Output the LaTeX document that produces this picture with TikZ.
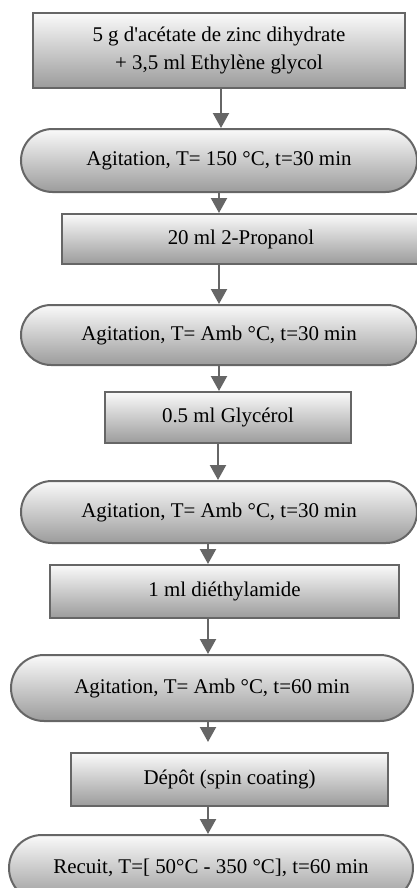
\documentclass[tikz,border=0pt]{standalone}
\usepackage{fontspec}
\setmainfont{Liberation Serif}
\usetikzlibrary{arrows.meta,shapes.misc}
\begin{document}
\begin{tikzpicture}[x=1bp,y=-1bp,
  etape/.style={draw=black!60,line width=2bp,top color=white!96!gray,bottom color=gray!78,inner sep=0pt,align=center,font=\fontsize{21}{27.5}\selectfont},
  agit/.style={etape,rounded rectangle},
  fl/.style={draw=black!60,line width=2.2bp,-{Triangle[width=16bp,length=15bp]}}]
\useasboundingbox (0,0) rectangle (416,888);
\node[etape,minimum width=372bp,minimum height=75bp] (b1) at (219,50.5) {5 g d\textquotesingle ac\'etate de zinc dihydrate\\+ 3,5 ml Ethylène glycol};
\node[agit,minimum width=396bp,minimum height=63bp] (s1) at (219,160.5) {Agitation, T= 150 °C, t=30 min};
\node[etape,minimum width=358bp,minimum height=50bp] (b2) at (241,239) {20 ml 2-Propanol};
\node[agit,minimum width=396bp,minimum height=60bp] (s2) at (219,335) {Agitation, T= Amb °C, t=30 min};
\node[etape,minimum width=246bp,minimum height=51bp] (b3) at (228,417.5) {0.5 ml Glycérol};
\node[agit,minimum width=396bp,minimum height=62bp] (s3) at (219,512) {Agitation, T= Amb °C, t=30 min};
\node[etape,minimum width=349bp,minimum height=53bp] (b4) at (224.5,591.5) {1 ml diéthylamide};
\node[agit,minimum width=402bp,minimum height=66bp] (s4) at (212,688) {Agitation, T= Amb °C, t=60 min};
\node[etape,minimum width=317bp,minimum height=53bp] (b5) at (229.5,779.5) {Dépôt (spin coating)};
\node[agit,minimum width=404bp,minimum height=66bp] (s5) at (211,868) {Recuit, T=[ 50°C - 350 °C], t=60 min};
% fleches
\draw[fl] (b1.south -| 221,0) -- (s1.north -| 221,0);
\draw[fl] (s1.south -| 219,0) -- (b2.north -| 219,0);
\draw[fl] (b2.south -| 219,0) -- (s2.north -| 219,0);
\draw[fl] (s2.south -| 219,0) -- (b3.north -| 219,0);
\draw[fl] (b3.south -| 218,0) -- (s3.north -| 218,0);
\draw[fl] (s3.south -| 208,0) -- (b4.north -| 208,0);
\draw[fl] (b4.south -| 208,0) -- (s4.north -| 208,0);
\draw[fl,shorten >=10bp] (s4.south -| 208,0) -- (b5.north -| 208,0);
\draw[fl] (b5.south -| 208,0) -- (s5.north -| 208,0);
\end{tikzpicture}
\end{document}
